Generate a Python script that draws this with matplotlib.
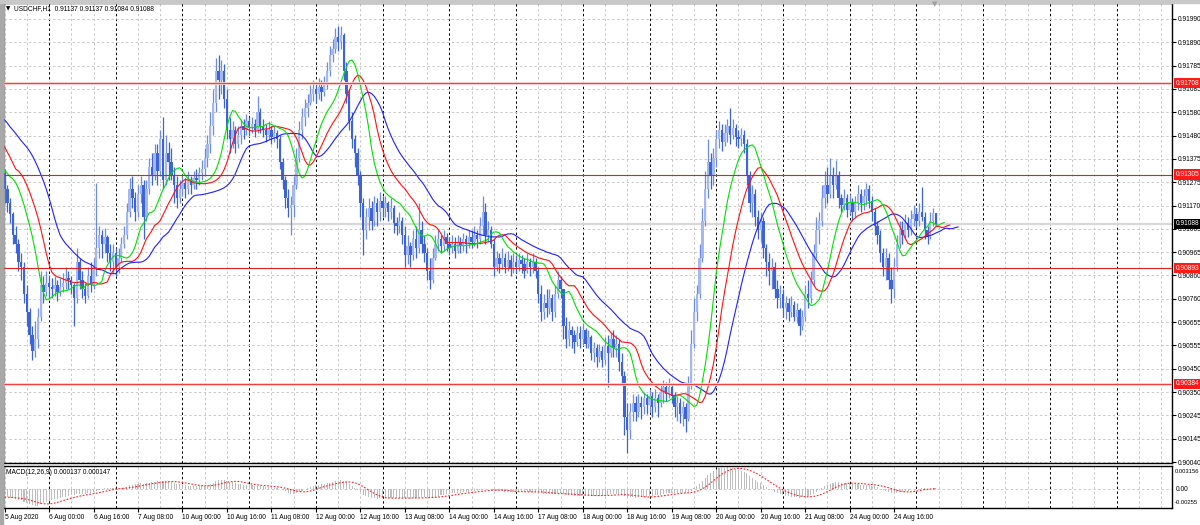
import numpy as np
import pandas as pd
import matplotlib
matplotlib.use('Agg')
import matplotlib.pyplot as plt
from matplotlib import font_manager
from matplotlib.transforms import blended_transform_factory
from matplotlib.patches import Rectangle

# narrow font if there is one, else a small Arial-like one
fam, fs = 'Liberation Sans', 4.8
try:
    font_manager.findfont(font_manager.FontProperties(family='Liberation Sans Narrow'),
                          fallback_to_default=False)
    fam, fs = 'Liberation Sans Narrow', 5.8
except ValueError:
    pass
plt.rcParams['font.family'] = [fam, 'DejaVu Sans']

# USDCHF H1 bars from 5 Aug 2020 08:00, prices in pips (x 1e-4); open = previous close
first_open = 9131.0
closes = [
    9124, 9118, 9113, 9104, 9100, 9092, 9090, 9078, 9070, 9060, 9053, 9058, 9068, 9082, 9079, 9083,  # 5 Aug
    9081, 9080, 9082, 9079, 9081, 9083, 9085, 9084, 9082, 9076, 9092, 9084, 9080, 9077, 9086, 9082,
    9090, 9098, 9104, 9100, 9103, 9096, 9092, 9096,  # 6 Aug
    9090, 9094, 9100, 9104, 9114, 9124, 9120, 9114, 9122, 9126, 9112, 9124, 9134, 9130, 9140, 9132,
    9146, 9128, 9140, 9136, 9130, 9126, 9120, 9124,  # 7 Aug
    9127, 9124, 9128, 9126, 9129, 9128, 9131, 9133, 9138, 9144, 9152, 9162, 9176, 9172, 9176, 9164,
    9150, 9146, 9150, 9144, 9148, 9152, 9150, 9154,  # 10 Aug
    9151, 9153, 9150, 9158, 9152, 9150, 9148, 9150, 9147, 9149, 9146, 9136, 9128, 9120, 9116, 9117,
    9126, 9138, 9150, 9156, 9160, 9162, 9166, 9168,  # 11 Aug
    9166, 9169, 9167, 9170, 9176, 9183, 9186, 9191, 9189, 9192, 9176, 9166, 9154, 9146, 9140, 9130,
    9118, 9106, 9112, 9116, 9110, 9118, 9114, 9119,  # 12 Aug
    9116, 9118, 9114, 9116, 9109, 9108, 9110, 9104, 9095, 9099, 9095, 9102, 9098, 9106, 9100, 9096,
    9088, 9084, 9094, 9100, 9102, 9099, 9103, 9100,  # 13 Aug
    9098, 9100, 9097, 9101, 9099, 9102, 9100, 9103, 9101, 9104, 9102, 9108, 9114, 9104, 9106, 9100,
    9090, 9094, 9091, 9094, 9090, 9093, 9089, 9092,  # 14 Aug
    9090, 9093, 9091, 9088, 9092, 9090, 9092, 9088, 9078, 9070, 9074, 9072, 9076, 9070, 9078, 9084,
    9080, 9064, 9058, 9062, 9060, 9057, 9061, 9058,  # 17 Aug
    9062, 9056, 9059, 9052, 9054, 9050, 9053, 9049, 9055, 9052, 9058, 9054, 9056, 9048, 9042, 9024,
    9018, 9026, 9030, 9026, 9030, 9028, 9032, 9029,  # 18 Aug
    9033, 9028, 9032, 9030, 9035, 9037, 9034, 9037, 9033, 9028, 9030, 9025, 9028, 9023, 9038, 9056,
    9070, 9078, 9094, 9110, 9124, 9136, 9130, 9138,  # 19 Aug
    9146, 9150, 9145, 9149, 9152, 9148, 9151, 9147, 9146, 9148, 9144, 9130, 9118, 9122, 9112, 9106,
    9110, 9098, 9092, 9088, 9090, 9080, 9076, 9078,  # 20 Aug
    9072, 9074, 9070, 9073, 9068, 9071, 9064, 9068, 9078, 9076, 9084, 9096, 9106, 9110, 9120, 9126,
    9122, 9130, 9126, 9130, 9120, 9117, 9120, 9115,  # 21 Aug
    9118, 9114, 9118, 9122, 9118, 9121, 9124, 9119, 9114, 9108, 9104, 9096, 9090, 9094, 9084, 9080,
    9090, 9100, 9106, 9104, 9109, 9106, 9111, 9113,  # 24 Aug
    9110, 9114, 9112, 9106, 9103, 9110, 9113.7, 9108.8,  # 25 Aug
]
highs = [
    9133, 9126, 9120, 9114, 9108, 9102, 9096, 9092, 9082, 9072, 9064, 9066, 9072, 9088, 9086, 9088,
    9086, 9085, 9086, 9084, 9085, 9087, 9090, 9088, 9086, 9083, 9098, 9094, 9088, 9083, 9090, 9092,
    9094, 9127, 9108, 9106, 9107, 9104, 9100, 9100,
    9098, 9098, 9103, 9108, 9118, 9129, 9130, 9123, 9126, 9130, 9128, 9128, 9138, 9140, 9144, 9144,
    9150, 9156, 9148, 9145, 9142, 9134, 9130, 9128,
    9130, 9129, 9132, 9130, 9132, 9133, 9134, 9137, 9142, 9148, 9158, 9168, 9182, 9183, 9181, 9179,
    9168, 9156, 9154, 9152, 9152, 9155, 9155, 9157,
    9156, 9156, 9155, 9165, 9160, 9155, 9153, 9154, 9152, 9152, 9150, 9148, 9138, 9130, 9124, 9121,
    9130, 9142, 9154, 9160, 9164, 9166, 9170, 9172,
    9171, 9173, 9172, 9174, 9180, 9187, 9190, 9195, 9196, 9196, 9193, 9180, 9168, 9158, 9148, 9142,
    9132, 9120, 9116, 9120, 9119, 9121, 9120, 9123,
    9121, 9121, 9119, 9120, 9117, 9112, 9114, 9112, 9108, 9104, 9101, 9106, 9108, 9118, 9110, 9104,
    9098, 9094, 9098, 9104, 9106, 9104, 9106, 9105,
    9103, 9104, 9103, 9104, 9103, 9105, 9104, 9106, 9106, 9108, 9106, 9112, 9121, 9118, 9110, 9108,
    9102, 9097, 9096, 9098, 9096, 9097, 9095, 9096,
    9095, 9096, 9095, 9094, 9096, 9094, 9096, 9094, 9090, 9082, 9078, 9080, 9080, 9078, 9082, 9088,
    9086, 9076, 9068, 9066, 9064, 9062, 9064, 9064,
    9065, 9063, 9062, 9060, 9057, 9056, 9056, 9055, 9059, 9060, 9061, 9062, 9060, 9058, 9052, 9044,
    9030, 9030, 9034, 9033, 9034, 9033, 9035, 9034,
    9036, 9035, 9036, 9034, 9038, 9040, 9039, 9041, 9038, 9035, 9033, 9032, 9031, 9030, 9042, 9062,
    9076, 9082, 9100, 9116, 9132, 9146, 9140, 9142,
    9150, 9154, 9153, 9153, 9155, 9160, 9155, 9153, 9150, 9151, 9150, 9146, 9132, 9126, 9124, 9115,
    9114, 9112, 9100, 9096, 9094, 9092, 9084, 9082,
    9080, 9077, 9076, 9077, 9075, 9074, 9072, 9071, 9082, 9084, 9088, 9100, 9112, 9114, 9126, 9132,
    9134, 9138, 9134, 9137, 9132, 9122, 9124, 9122,
    9122, 9120, 9121, 9126, 9124, 9124, 9127, 9126, 9121, 9116, 9110, 9106, 9098, 9098, 9096, 9090,
    9094, 9104, 9110, 9110, 9113, 9112, 9115, 9117,
    9116, 9118, 9125, 9114, 9108, 9114, 9116, 9113.7,
]
lows = [
    9118, 9114, 9109, 9100, 9096, 9088, 9084, 9074, 9064, 9056, 9049, 9050, 9054, 9066, 9074, 9077,
    9076, 9076, 9077, 9075, 9077, 9079, 9080, 9080, 9078, 9064, 9074, 9080, 9076, 9074, 9076, 9079,
    9080, 9086, 9094, 9094, 9096, 9092, 9088, 9087,
    9086, 9087, 9092, 9098, 9102, 9112, 9116, 9110, 9112, 9118, 9102, 9110, 9122, 9126, 9128, 9126,
    9130, 9124, 9126, 9128, 9128, 9118, 9116, 9118,
    9121, 9120, 9122, 9122, 9124, 9124, 9126, 9128, 9130, 9134, 9140, 9148, 9158, 9164, 9166, 9160,
    9146, 9140, 9142, 9140, 9142, 9144, 9146, 9148,
    9148, 9149, 9147, 9149, 9149, 9147, 9145, 9146, 9144, 9145, 9142, 9133, 9124, 9116, 9112, 9104,
    9112, 9124, 9136, 9146, 9152, 9156, 9161, 9163,
    9162, 9164, 9163, 9165, 9168, 9174, 9180, 9184, 9185, 9186, 9172, 9162, 9150, 9142, 9134, 9126,
    9112, 9095, 9102, 9106, 9106, 9108, 9108, 9110,
    9112, 9112, 9110, 9111, 9105, 9104, 9105, 9100, 9090, 9091, 9090, 9093, 9094, 9096, 9096, 9092,
    9084, 9080, 9083, 9093, 9097, 9096, 9097, 9097,
    9095, 9096, 9094, 9096, 9096, 9097, 9096, 9098, 9098, 9099, 9098, 9100, 9104, 9100, 9101, 9098,
    9086, 9088, 9087, 9089, 9087, 9088, 9086, 9087,
    9087, 9088, 9087, 9085, 9087, 9086, 9087, 9085, 9074, 9066, 9067, 9068, 9069, 9066, 9068, 9076,
    9076, 9058, 9054, 9055, 9054, 9052, 9055, 9054,
    9056, 9054, 9054, 9049, 9048, 9046, 9048, 9046, 9047, 9037, 9050, 9050, 9050, 9044, 9038, 9016,
    9008, 9014, 9022, 9022, 9024, 9023, 9025, 9025,
    9026, 9024, 9026, 9024, 9028, 9030, 9031, 9032, 9030, 9024, 9022, 9021, 9020, 9017, 9022, 9036,
    9054, 9066, 9076, 9092, 9108, 9120, 9124, 9126,
    9134, 9142, 9141, 9143, 9145, 9144, 9146, 9143, 9142, 9143, 9140, 9126, 9114, 9112, 9108, 9102,
    9101, 9094, 9086, 9082, 9080, 9076, 9072, 9072,
    9068, 9067, 9066, 9068, 9066, 9065, 9060, 9062, 9066, 9072, 9074, 9082, 9094, 9100, 9108, 9116,
    9118, 9120, 9120, 9124, 9116, 9114, 9115, 9112,
    9113, 9110, 9112, 9115, 9114, 9115, 9117, 9116, 9110, 9104, 9100, 9092, 9086, 9084, 9080, 9074,
    9076, 9088, 9098, 9100, 9102, 9103, 9104, 9108,
    9107, 9108, 9110, 9102, 9100, 9102, 9108, 9108.4,
]

# Alligator line values read at the left edge (before the shifted SMMA takes over)
jaw_head = [9154.6, 9153.2, 9151.5, 9150.1, 9148.6, 9147.0, 9145.4, 9144.0]
teeth_head = [9142.7, 9140.4, 9138.1, 9135.6, 9133.0]
lips_head = [9132.6, 9131.0, 9129.5]
# MACD EMA starting values (pips)
ema12_start = 9131.0
ema26_start = 9142.0

levels = [0.91708, 0.91305, 0.90893, 0.90384]
bid = 0.91088
price_labels = ['0.91990', '0.91890', '0.91785', '0.91685', '0.91580', '0.91480', '0.91375',
                '0.91275', '0.91170', '0.91065', '0.90965', '0.90860', '0.90760', '0.90655',
                '0.90555', '0.90450', '0.90350', '0.90245', '0.90145', '0.90040']
date_labels = ['5 Aug 2020', '6 Aug 00:00', '6 Aug 16:00', '7 Aug 08:00', '10 Aug 00:00',
               '10 Aug 16:00', '11 Aug 08:00', '12 Aug 00:00', '12 Aug 16:00', '13 Aug 08:00',
               '14 Aug 00:00', '14 Aug 16:00', '17 Aug 08:00', '18 Aug 00:00', '18 Aug 16:00',
               '19 Aug 08:00', '20 Aug 00:00', '20 Aug 16:00', '21 Aug 08:00', '24 Aug 00:00',
               '24 Aug 16:00']

c = np.array(closes, float) / 1e4
h = np.array(highs, float) / 1e4
l = np.array(lows, float) / 1e4
o = np.r_[first_open / 1e4, c[:-1]]
h = np.maximum.reduce([h, o, c])
l = np.minimum.reduce([l, o, c])
n = len(c)
x = np.arange(n)
med = (h + l) / 2


def smma(src, period, head):
    out = list(np.array(head) / 1e4)
    prev = out[-1]
    for v in src:
        prev = (prev * (period - 1) + v) / period
        out.append(prev)
    return np.array(out)


jaw = smma(med, 13, jaw_head)
teeth = smma(med, 8, teeth_head)
lips = smma(med, 5, lips_head)

ema12 = pd.Series(np.r_[ema12_start / 1e4, c]).ewm(span=12, adjust=False).mean().values[1:]
ema26 = pd.Series(np.r_[ema26_start / 1e4, c]).ewm(span=26, adjust=False).mean().values[1:]
macd = ema12 - ema26
signal = pd.Series(macd).rolling(9, min_periods=1).mean().values

W, H = 1200, 525
fig = plt.figure(figsize=(12, 5.25), dpi=100)
ax = fig.add_axes([4 / W, (H - 463) / H, (1172 - 4) / W, (463 - 3) / H])
axm = fig.add_axes([4 / W, (H - 508) / H, (1172 - 4) / W, (508 - 466) / H])

px_per_bar = 2.78
x0 = -0.2
x1 = x0 + 1168 / px_per_bar
ytop = 0.9199 + 16 / 22718
ybot = 0.9199 - 444 / 22718

grid_c = '#c8c8c8'
for a in (ax, axm):
    a.set_xlim(x0, x1)
    for b in range(0, int(x1) + 1, 8):
        if (b - 16) % 24 == 0:
            a.axvline(b, color='black', lw=0.7, ls=(0, (2.5, 2.5)), zorder=0)
        else:
            a.axvline(b, color=grid_c, lw=0.7, ls=(0, (2.5, 2.5)), zorder=0)
    for s in a.spines.values():
        s.set_color('black')
        s.set_linewidth(1.0)
    a.spines['left'].set_color('#a0a0a0')

ax.set_ylim(ybot, ytop)
tick_pos = np.linspace(0.9199, 0.9004, len(price_labels))
for t in tick_pos:
    ax.axhline(t, color=grid_c, lw=0.7, ls=(0, (2.5, 2.5)), zorder=0)

# candles
bull_body, bear_body = '#a4b7ee', '#3d63d8'
bull_wick, bear_wick = '#6d8ae4', '#3d63d8'
up = c >= o
body_lo = np.minimum(o, c)
body_h = np.maximum(np.abs(c - o), 0.00002)
ax.vlines(x[up], l[up], h[up], color=bull_wick, lw=0.9, zorder=2)
ax.vlines(x[~up], l[~up], h[~up], color=bear_wick, lw=0.9, zorder=2)
ax.bar(x[up], body_h[up], bottom=body_lo[up], width=0.85, color=bull_body, lw=0, zorder=3)
ax.bar(x[~up], body_h[~up], bottom=body_lo[~up], width=0.85, color=bear_body, lw=0, zorder=3)

# alligator
ax.plot(np.arange(len(jaw)), jaw, color='#2020ff', lw=0.8, zorder=4)
ax.plot(np.arange(len(teeth)), teeth, color='#ff1010', lw=0.8, zorder=4)
ax.plot(np.arange(len(lips)), lips, color='#00e000', lw=0.8, zorder=4)

# horizontal levels and bid line
ax.axhline(bid, color='#d8d8d8', lw=1.6, zorder=1)
for i, lv in enumerate(levels):
    if i in (0, 3):
        ax.axhline(lv, color='#ffd0d0', lw=2.0, zorder=4)
        ax.axhline(lv, color='#f04040', lw=0.8, zorder=5)
    else:
        ax.axhline(lv, color='#e02020', lw=0.8, zorder=5)

ax.yaxis.tick_right()
ax.set_yticks(tick_pos)
ax.set_yticklabels(price_labels)
ax.tick_params(axis='y', length=3, width=0.8, pad=1.5, labelsize=fs)
ax.tick_params(axis='x', bottom=False, labelbottom=False)

tr = blended_transform_factory(ax.transAxes, ax.transData)
for lv in levels:
    ax.text(1.0035, lv, f'{lv:.5f}', transform=tr, va='center', ha='left', fontsize=fs,
            color='white', clip_on=False, zorder=10,
            bbox=dict(boxstyle='square,pad=0.25', fc='#ff1a1a', ec='none'))
ax.text(1.0035, bid, f'{bid:.5f}', transform=tr, va='center', ha='left', fontsize=fs,
        color='white', clip_on=False, zorder=10,
        bbox=dict(boxstyle='square,pad=0.25', fc='black', ec='none'))

# MACD panel
axm.set_ylim(-0.00255, 0.003156)
axm.axhline(0, color=grid_c, lw=0.7, ls=(0, (2.5, 2.5)), zorder=0)
axm.bar(x, macd, width=0.38, color='#bdbdbd', lw=0, zorder=2)
axm.plot(x, signal, color='#ff2020', lw=0.8, ls=(0, (1.5, 1.5)), zorder=3)
axm.set_yticks([])
trm = axm.transAxes
axm.text(1.002, 0.88, '0.003156', transform=trm, va='center', ha='left', fontsize=fs * 0.88,
         clip_on=False)
axm.text(1.003, 0.447, '0.00', transform=trm, va='center', ha='left', fontsize=fs, clip_on=False)
axm.text(1.002, 0.12, '-0.00255', transform=trm, va='center', ha='left', fontsize=fs * 0.88,
         clip_on=False)
axm.text(0.002, 0.84, 'MACD(12,26,9) 0.000137 0.000147', transform=trm,
         va='center', ha='left', fontsize=fs)

axm.set_xticks(np.arange(len(date_labels)) * 16)
axm.set_xticklabels(date_labels, ha='left', fontsize=fs)
axm.tick_params(axis='x', length=3, width=0.8, pad=1)

# header
fig.text(6 / W, 1 - 9 / H, '\u25bc', fontsize=4, va='center', ha='left', family='DejaVu Sans')
fig.text(14 / W, 1 - 9 / H, 'USDCHF,H1  0.91137 0.91137 0.91084 0.91088', fontsize=fs,
         va='center', ha='left')
fig.patches.append(Rectangle((0, 0), 3 / W, 1 - 3 / H, transform=fig.transFigure,
                             color='#a8a8a8', zorder=0))
fig.patches.append(Rectangle((0, 1 - 3 / H), 1, 3 / H, transform=fig.transFigure,
                             color='#c8c8c8', zorder=0))
fig.text(935 / W, 1 - 4 / H, '\u25bc', fontsize=5, color='#a0a0a0', va='center', ha='center',
         family='DejaVu Sans')

fig.savefig('out.png', dpi=100)
